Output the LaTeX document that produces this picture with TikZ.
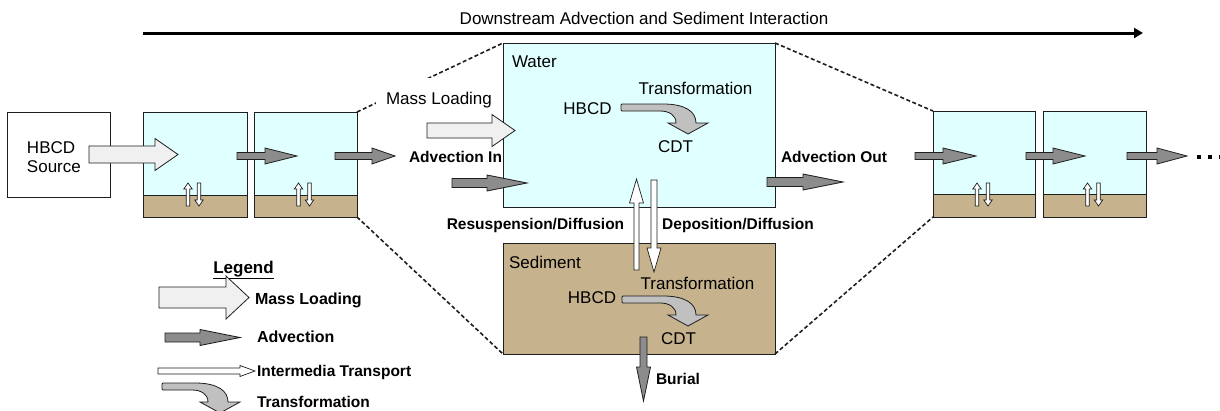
\documentclass[tikz,border=0pt]{standalone}
\usepackage{fontspec}
\setmainfont{Liberation Sans}
\usetikzlibrary{arrows.meta}

\definecolor{waterblue}{RGB}{224,255,255}
\definecolor{sedtan}{RGB}{198,178,140}
\definecolor{loadgray}{RGB}{240,240,240}
\definecolor{advgray}{RGB}{140,140,140}
\definecolor{transgray}{RGB}{192,192,192}
\definecolor{edge}{RGB}{30,30,30}

% horizontal block arrow: style, tail x, head-base x, tip x, centre y, body half, head half
\newcommand{\hblock}[7]{%
  \path[#1] (#2,{#5-#6}) -- (#3,{#5-#6}) -- (#3,{#5-#7}) -- (#4,#5)
    -- (#3,{#5+#7}) -- (#3,{#5+#6}) -- (#2,{#5+#6}) -- cycle;}
% vertical block arrow: style, centre x, tail y, head-base y, tip y, body half, head half
\newcommand{\vblock}[7]{%
  \path[#1] ({#2-#6},#3) -- ({#2-#6},#4) -- ({#2-#7},#4) -- (#2,#5)
    -- ({#2+#7},#4) -- ({#2+#6},#4) -- ({#2+#6},#3) -- cycle;}
% one river cell: name, x, y, width, height, sediment height
\newcommand{\rivercell}[6]{%
  \node[waterbox, minimum width=#4pt, minimum height=#5pt] (#1) at (#2,#3) {};
  \node[sedbox, minimum width=#4pt, minimum height=#6pt, anchor=south west] (#1s) at (#1.south west) {};
  \vblock{mediaarrow}{#2+#4/2-7}{#3+#5-11}{#3+#5-28}{#3+#5-34}{1.7}{4.2}
  \vblock{mediaarrow}{#2+#4/2+4}{#3+#5-34}{#3+#5-17}{#3+#5-11}{1.7}{4.2}}

\begin{document}
\begin{tikzpicture}[x=1pt,y=-1pt,
  every node/.style={inner sep=0pt, outer sep=0pt},
  plainbox/.style={draw=edge, line width=1pt, fill=white, anchor=north west},
  waterbox/.style={draw=edge, line width=1pt, fill=waterblue, anchor=north west},
  sedbox/.style={draw=edge, line width=1pt, fill=sedtan, anchor=north west},
  lab/.style={font=\fontsize{17}{19.5}\selectfont},
  blab/.style={font=\fontsize{15.5}{18}\selectfont\bfseries},
  loadarrow/.style={draw=edge, line width=0.8pt, fill=loadgray, line join=miter},
  advarrow/.style={draw=edge, line width=0.8pt, fill=advgray},
  mediaarrow/.style={draw=edge, line width=0.7pt, fill=white},
  linkline/.style={draw=edge, line width=1.6pt, dash pattern=on 4pt off 2.5pt},
  pics/transarrow/.style={code={
    \path[draw=edge, line width=0.8pt, fill=transgray]
      (0,1) .. controls (0,0) .. (1,0) -- (#1,0)
      .. controls ({#1+23},0) and ({#1+33},8) .. ({#1+33},19)
      -- ({#1+45},19) -- ({#1+25},30) -- ({#1+5},19) -- ({#1+13},19)
      .. controls ({#1+13},11) and ({#1+6},7) .. ({#1-3},7)
      -- (1,7) .. controls (0,7) .. (0,6) -- cycle;}}
]
\useasboundingbox (0,0) rectangle (1220,410);
\fill[white] (0,0) rectangle (1220,410);

% flow direction along the river
\coordinate (flowstart) at (143,33);
\coordinate (flowend) at (1143,33);
\draw[line width=3pt, -{Triangle[length=9pt,width=10pt]}] (flowstart) -- (flowend);
\node[lab] (flowlabel) at (644,18) {Downstream Advection and Sediment Interaction};

% source and upstream cells
\node[plainbox, minimum width=103pt, minimum height=85pt] (src) at (7,112) {};
\node[lab, anchor=west, align=left] (srclabel) at (27,157) {HBCD\\Source};
\rivercell{c1}{143}{112}{104}{105}{22}
\rivercell{c2}{254}{112}{103}{105}{22}

% downstream cells
\rivercell{r1}{933}{111}{102}{106}{23}
\rivercell{r2}{1043}{111}{103}{106}{23}

% expanded cell: water over sediment
\node[waterbox, minimum width=272pt, minimum height=164pt] (water) at (503,43) {};
\node[sedbox, minimum width=272pt, minimum height=111pt] (sed) at (503,243) {};

% zoom lines from the small cell to the expanded view
\draw[linkline] (c2.north east) -- (water.north west);
\draw[linkline] (c2s.south east) -- (sed.south west);
\draw[linkline] (water.north east) -- (r1.north west);
\draw[linkline] (sed.south east) -- (r1s.south west);

% arrows of the small cells
\hblock{loadarrow}{89}{155}{178}{154.5}{8.5}{16}
\hblock{advarrow}{237}{265}{297}{156}{3.5}{8}
\hblock{advarrow}{335}{372}{395}{156}{3.5}{8}
\hblock{advarrow}{915}{943}{976}{156}{3.5}{8}
\hblock{advarrow}{1026}{1053}{1085}{156}{3.5}{8}
\hblock{advarrow}{1127}{1157}{1187}{156}{3.5}{8}
\foreach \dx in {1197,1208,1219} \fill (\dx,155) rectangle ++(3.5,3.5);

% water compartment
\node[lab, fill=white, inner xsep=10pt, inner ysep=14pt] (mlabel) at (439,100) {Mass Loading};
\hblock{loadarrow}{427}{492}{515}{130.5}{7.5}{16}
\node[blab] (ainlabel) at (455.5,157) {Advection In};
\hblock{advarrow}{452}{487}{527}{183}{4.5}{8}
\node[blab] (aoutlabel) at (834,157) {Advection Out};
\hblock{advarrow}{767}{803}{843}{182}{4.5}{8}
\node[lab, anchor=west] (wlabel) at (512,62) {Water};
\node[lab] (wtrans) at (695.5,88) {Transformation};
\node[lab] (whbcd) at (587.5,109) {HBCD};
\pic at (621,104) {transarrow=42};
\node[lab] (wcdt) at (675.5,147) {CDT};

% exchange between water and sediment
\vblock{mediaarrow}{636.5}{270}{203}{179}{2.5}{7}
\vblock{mediaarrow}{654}{180}{248}{272}{3}{7}
\node[blab] (reslabel) at (535.5,225) {Resuspension/Diffusion};
\node[blab] (deplabel) at (738,225) {Deposition/Diffusion};

% sediment compartment
\node[lab, anchor=west] (slabel) at (509,262) {Sediment};
\node[lab] (strans) at (697.5,283) {Transformation};
\node[lab] (shbcd) at (592,298) {HBCD};
\pic at (622,296) {transarrow=41};
\node[lab] (scdt) at (678.5,339) {CDT};
\vblock{advarrow}{643.5}{337}{367}{401}{3.5}{7}
\node[blab, anchor=west] (burlabel) at (656,379) {Burial};

% legend
\node[blab, font=\fontsize{17}{19}\selectfont\bfseries] (leghead) at (243.5,270) {\underline{Legend}};
\hblock{loadarrow}{159}{226}{249}{297.5}{10.5}{21.5}
\node[blab, font=\fontsize{16}{18}\selectfont\bfseries, anchor=west] (legload) at (255,300) {Mass Loading};
\hblock{advarrow}{165}{200}{240}{337.5}{4.5}{8}
\node[blab, font=\fontsize{16}{18}\selectfont\bfseries, anchor=west] (legadv) at (257,337) {Advection};
\hblock{mediaarrow}{158}{240}{255}{371}{3}{5.5}
\node[blab, anchor=west] (legmedia) at (257,372) {Intermedia Transport};
\pic at (162,383) {transarrow=33};
\node[blab, anchor=west] (legtrans) at (257,402) {Transformation};
\end{tikzpicture}
\end{document}
